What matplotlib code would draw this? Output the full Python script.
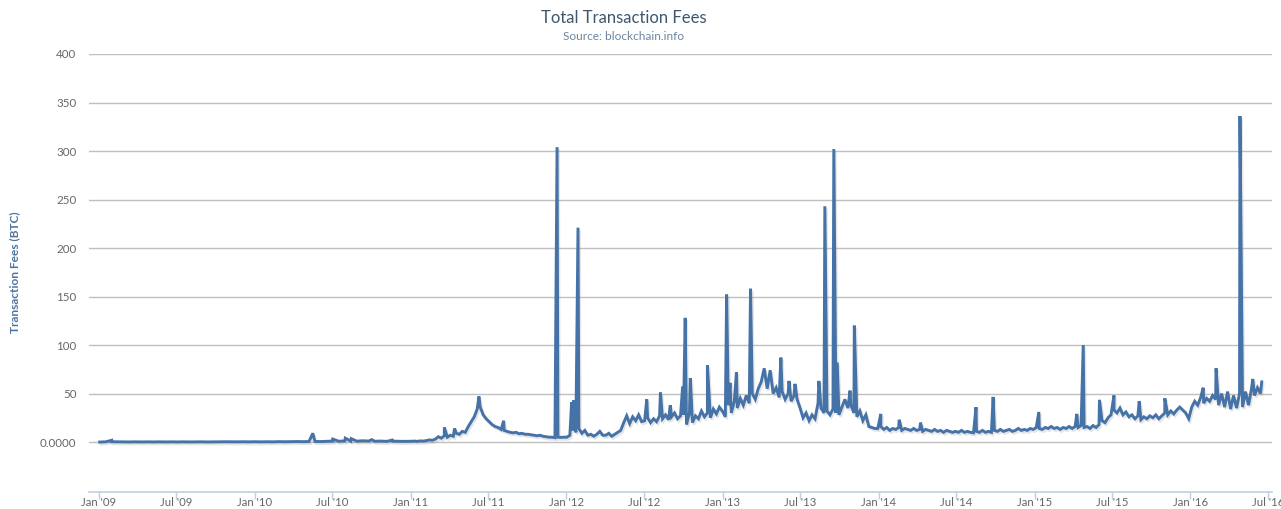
import numpy as np
import pandas as pd
import matplotlib
matplotlib.use("Agg")
import matplotlib.pyplot as plt
import matplotlib.dates as mdates
import matplotlib.patheffects as pe
from matplotlib.ticker import FuncFormatter

plt.rcParams['font.family'] = ['Lato', 'DejaVu Sans']

# quiet early years, one reading every two weeks (BTC)
early_start = "2009-01-03"
early_fees = [
    # 2009
    0.0, 0.2, 0.3, 0.2, 0.2, 0.1, 0.2, 0.1, 0.2, 0.1, 0.2, 0.1, 0.2,
    0.1, 0.2, 0.1, 0.2, 0.2, 0.1, 0.2, 0.2, 0.3, 0.2, 0.2, 0.3, 0.2,
    # 2010
    0.3, 0.2, 0.3, 0.2, 0.4, 0.3, 0.4, 0.5, 0.4, 0.5, 0.6, 0.5, 0.8,
    1.0, 0.8, 1.2, 1.0, 0.9, 1.3, 1.0, 0.8, 1.0, 0.7, 0.9, 0.8, 0.7,
]

# weekly readings from Jan 2011 (13 weeks per row)
weekly_start = "2011-01-03"
weekly_fees = [
    # 2011
    0.8, 1.0, 0.7, 1.2, 1.0, 1.5, 2.2, 1.8, 3.0, 5.5, 4.0, 6.5, 5.0,
    7, 6, 9, 8, 11, 10, 16, 21, 26, 34, 36, 28, 24,
    21, 18, 16, 15, 13, 12, 11, 10, 9.5, 10, 8.5, 9, 8,
    8, 7.5, 7, 6.5, 7, 6, 5.5, 5, 5, 4.5, 5, 4.8, 5,
    # 2012
    5, 7, 12, 10, 14, 9, 12, 7, 8, 6, 8, 11, 7,
    7, 9, 6, 8, 10, 12, 20, 27, 19, 26, 22, 28, 21,
    22, 25, 20, 24, 21, 27, 24, 28, 23, 26, 30, 24, 27,
    28, 18, 30, 20, 27, 24, 32, 26, 30, 25, 34, 29, 36,
    # 2013
    32, 26, 38, 30, 42, 35, 45, 38, 48, 40, 50, 44, 55,
    62, 76, 55, 74, 50, 56, 46, 52, 44, 50, 42, 48, 44,
    35, 25, 30, 22, 28, 24, 40, 35, 30, 32, 28, 34, 30,
    28, 36, 44, 35, 38, 30, 26, 32, 22, 28, 16, 15, 14,
    # 2014
    14, 16, 13, 15, 12, 14, 13, 15, 12, 14, 13, 12, 14,
    12, 13, 11, 13, 12, 11, 13, 11, 12, 10, 12, 11, 10,
    11, 10, 12, 10, 11, 10, 9.5, 11, 10, 12, 10, 11, 10,
    12, 11, 13, 11, 12, 13, 11, 12, 14, 12, 13, 12, 14,
    # 2015
    13, 15, 14, 13, 15, 14, 16, 14, 15, 13, 15, 14, 16,
    14, 16, 15, 17, 15, 16, 14, 17, 15, 18, 22, 20, 25,
    28, 33, 30, 35, 28, 31, 26, 28, 24, 27, 23, 26, 24,
    27, 25, 28, 24, 27, 30, 28, 32, 29, 33, 36, 33, 30,
    # 2016
    24, 36, 42, 38, 46, 40, 45, 42, 48, 44, 38, 50, 36,
    52, 34, 48, 35, 50, 36, 52, 38, 55, 48, 56, 50,
]

# single-day readings (spikes and the last point)
daily_dates = [
    "2009-01-31", "2010-05-17", "2010-07-03", "2010-08-01", "2010-08-15",
    "2010-10-02", "2010-11-19", "2011-03-21", "2011-04-14", "2011-06-10",
    "2011-08-07", "2011-12-10", "2012-01-13", "2012-01-18", "2012-01-28",
    "2012-07-07", "2012-08-08", "2012-08-31", "2012-09-29", "2012-10-05",
    "2012-10-17", "2012-11-26", "2013-01-10", "2013-01-18", "2013-02-02",
    "2013-03-07", "2013-05-17", "2013-06-05", "2013-06-19", "2013-08-14",
    "2013-08-28", "2013-09-18", "2013-09-26", "2013-10-26", "2013-11-05",
    "2014-01-06", "2014-02-18", "2014-04-09", "2014-08-17", "2014-09-26",
    "2015-01-11", "2015-04-10", "2015-04-25", "2015-06-02", "2015-07-06",
    "2015-09-03", "2015-11-02", "2016-01-31", "2016-03-01", "2016-04-26",
    "2016-05-26", "2016-06-16",
]
daily_fees = [
    1.8, 9, 3, 4, 3.5,
    2.5, 2, 15, 14, 47,
    22, 304, 41, 43, 221,
    44, 51, 38, 57, 128,
    66, 79, 152, 61, 72,
    158, 87, 63, 60, 63,
    243, 302, 82, 53, 120,
    29, 23, 20, 36, 46.5,
    31, 29, 100, 43.5, 48,
    42, 45, 56, 76, 336,
    65, 62,
]

early = pd.Series(early_fees, index=pd.date_range(early_start, periods=len(early_fees), freq="14D"))
weekly = pd.Series(weekly_fees, index=pd.date_range(weekly_start, periods=len(weekly_fees), freq="7D"))
daily = pd.Series(daily_fees, index=pd.to_datetime(daily_dates))
fees = pd.concat([early, weekly, daily]).sort_index()

fig = plt.figure(figsize=(12.81, 5.09), dpi=100)
ax = fig.add_axes([89 / 1281, 17 / 509, (1272 - 89) / 1281, (492 - 54) / 509])

ax.plot(fees.index, fees.values, color="#4572A7", lw=2.1, solid_joinstyle="miter",
        path_effects=[pe.SimpleLineShadow(offset=(1, -1.5), shadow_color="#999999", alpha=0.25),
                      pe.Normal()])

ax.set_ylim(-51.5, 400)
ax.set_yticks(np.arange(0, 401, 50))
ax.yaxis.set_major_formatter(FuncFormatter(lambda v, p: "0.0000" if v == 0 else f"{v:.0f}"))
ax.grid(axis="y", color="#C0C0C0", lw=1)
ax.set_axisbelow(True)

ax.set_xlim(pd.Timestamp("2008-12-09"), pd.Timestamp("2016-07-10"))
xticks = pd.date_range("2009-01-01", "2016-07-01", freq="6MS")
ax.set_xticks(xticks)
ax.xaxis.set_major_formatter(FuncFormatter(lambda v, p: mdates.num2date(v).strftime("%b '%y")))

for s in ["top", "right", "left"]:
    ax.spines[s].set_visible(False)
ax.spines["bottom"].set_color("#C0D0E0")
ax.spines["bottom"].set_linewidth(1.2)
ax.tick_params(axis="x", colors="#C0D0E0", length=5, width=1, pad=-1.5, labelcolor="#666666", labelsize=8.2)
ax.tick_params(axis="y", length=0, pad=9, labelcolor="#666666", labelsize=8.3)

fig.text(0.487, 1 - 18 / 509, "Total Transaction Fees", ha="center", va="center",
         fontsize=12, color="#3E576F")
fig.text(0.487, 1 - 36 / 509, "Source: blockchain.info", ha="center", va="center",
         fontsize=8.6, color="#6D869F")
fig.text(15 / 1281, 1 - 272 / 509, "Transaction Fees (BTC)", ha="center", va="center",
         rotation=90, fontsize=8.6, fontweight="bold", color="#4D759E")

fig.savefig("out.png", dpi=100)
